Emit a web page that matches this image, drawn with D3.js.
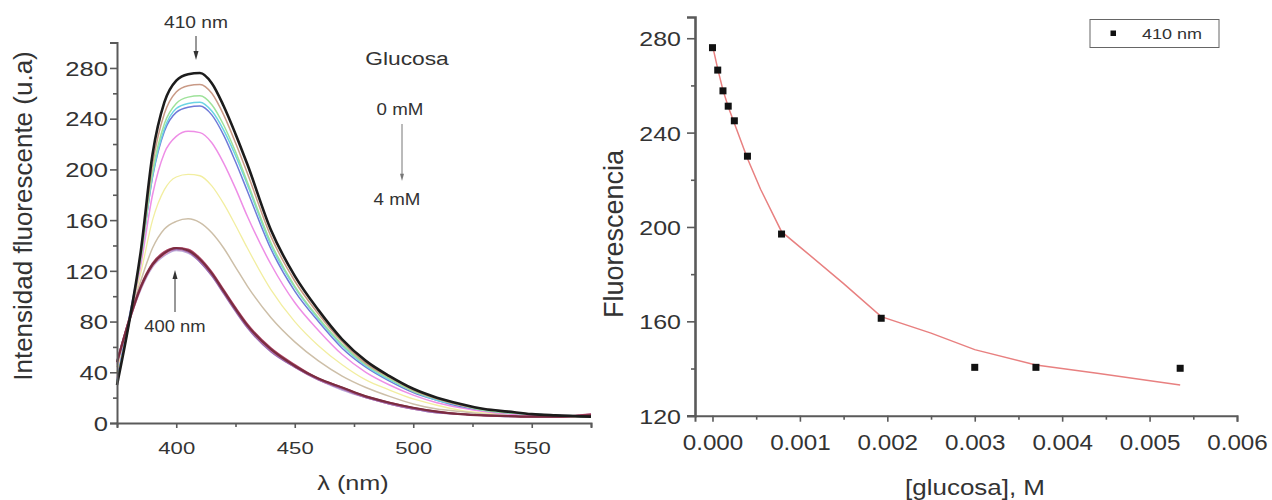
<!DOCTYPE html>
<html><head><meta charset="utf-8">
<script src="https://cdn.jsdelivr.net/npm/d3@7"></script>
<style>
body{margin:0;background:#fff}
svg{display:block}
text{font-family:"Liberation Sans",Arial,sans-serif;fill:#333}
</style>
</head><body>
<svg id="c" width="1272" height="500"></svg>
<script>
// ---------- DATA (left panel: emission spectra) ----------
const wavelengths = [375,380,385,390,395,400,405,410,415,420,425,430,440,450,460,470,480,490,500,510,520,530,540,550,560,575];
const spec0mM   = [30,78,135,212,253,270,275,276,268,250,228,204,152,116,89,66,49,37,27,20,15,11,9,7,6,5];
const specA     = [31,78,131,204,244,261,266,267,260,243,221,197,147,112,86,64,47,36,26,19,14,11,9,7,6,5];
const specB     = [32,78,129,198,236,252,257,258,251,235,214,190,142,108,83,62,46,35,25,19,14,10,8,7,6,5];
const specC     = [33,80,129,195,232,248,252,253,246,231,211,188,140,107,82,61,45,34,25,18,14,10,8,7,6,5];
const specD     = [33,82,131,194,230,245,249,250,243,227,206,183,137,104,80,59,44,33,24,18,13,10,8,7,6,5];
const specE     = [35,80,124,180,213,226,230,229,221,205,185,163,125,95,73,54,40,30,22,16,12,9,7,6,6,5];
const specF     = [40,82,118,160,184,194,196,195,187,173,156,138,105,80,61,46,34,26,19,14,10,8,7,6,5,5];
const specG     = [44,82,112,138,153,159,161,158,150,138,123,108,83,64,49,37,28,21,15,11,9,7,6,5,5,5];
const specH     = [48,80,107,125,134,138,136,129,118,104,90,77,58,45,35,28,21,16,12,9,7,6,5.5,5,5,6];
const specI     = [47,79,106,124,133,137,135,128,117,103,89,76,57,44,34,27,20,15,11,9,7,6,5.5,5,5,6];
const specJ     = [49,81,107,125,134,137,135,127,116,102,88,75,56,44,34,27,20,15,11,8,7,6,5.5,5,5,7];
const specK     = [46,79,105,123,132,136,134,127,116,103,89,76,57,44,34,26,20,15,11,8,7,6,5,5,5,6];
const specL     = [48,81,108,126,135,138,137,130,119,105,91,78,59,46,35,28,21,16,12,9,7,6,5.5,5,5,7];
const spectra   = [specF, specG, specE, specD, specC, specB, specA, specK, specI, specJ, specL, specH, spec0mM];
const specColors= ["#f2eea0","#cdbfa8","#ee8ee6","#6f7ad8","#6cd4e4","#9ee29a","#c99a86","#b8a8d8","#e486a8","#9a6ab0","#b04868","#7a2c40","#1c1c1c"];
const specWidths= [1.3,1.5,1.5,1.5,1.5,1.5,1.5,1.5,1.5,1.5,1.8,2.2,2.6];

const leftYTicks = [0,40,80,120,160,200,240,280];
const leftXTicks = [400,450,500,550];

// ---------- DATA (right panel: fluorescence vs glucose) ----------
const glucosaM     = [0,0.00006,0.00012,0.00018,0.00025,0.0004,0.00079,0.00193,0.0030,0.0037,0.00535];
const fluorescence = [276,266.5,257.7,251.2,245,230,197,161.3,140.5,140.5,140.1];
const fitX = [0,0.00006,0.00012,0.00018,0.00025,0.0004,0.00055,0.00079,0.00105,0.0015,0.00193,0.0025,0.003,0.0037,0.0044,0.00535];
const fitY = [277,267,258,251,244,229,216,198,190,176,162,155,148,141.5,138,133];
const rightYTicks = [120,160,200,240,280];
const rightXTicks = [0,0.001,0.002,0.003,0.004,0.005,0.006];

// ---------- DRAW ----------
const svg = d3.select("#c");
const axisCol = "#5a5a5a";

function sText(g, x, y, str, size, k, anchor){
  return g.append("text").attr("transform",`translate(${x},${y}) scale(${k},1)`)
    .attr("text-anchor",anchor||"middle").style("font-size",size+"px").text(str);
}
function arrow(g, x, y1, y2, col, w, head){
  const dir = y2>y1?1:-1;
  g.append("line").attr("x1",x).attr("x2",x).attr("y1",y1).attr("y2",y2-dir*head*1.6)
    .attr("stroke",col).attr("stroke-width",w);
  g.append("path").attr("d",`M${x-head/2},${y2-dir*head*1.8}L${x+head/2},${y2-dir*head*1.8}L${x},${y2}Z`).attr("fill",col);
}
function styleAxis(g){
  g.select(".domain").attr("stroke",axisCol).attr("stroke-width",2);
  g.selectAll(".tick line").attr("stroke",axisCol).attr("stroke-width",1.6);
  g.selectAll(".tick text").attr("fill","#333");
}

// Left panel
const L = svg.append("g");
const xL = d3.scaleLinear().domain([375,575]).range([117,591]);
const yL = d3.scaleLinear().domain([0,300]).range([423,42.6]);

const lineL = d3.line().x((d,i)=>xL(wavelengths[i])).y(d=>yL(d)).curve(d3.curveMonotoneX);
spectra.forEach((s,i)=>{
  L.append("path").attr("d",lineL(s)).attr("fill","none")
   .attr("stroke",specColors[i]).attr("stroke-width",specWidths[i]);
});

// minor ticks
const gLyMin = L.append("g").attr("transform","translate(117,0)")
  .call(d3.axisLeft(yL).tickValues(d3.range(20,301,40)).tickSize(4).tickFormat(""));
const gLxMin = L.append("g").attr("transform","translate(0,423)")
  .call(d3.axisBottom(xL).tickValues([375,425,475,525,575]).tickSize(4).tickFormat(""));
[gLyMin,gLxMin].forEach(g=>{g.select(".domain").remove();g.selectAll("line").attr("stroke",axisCol).attr("stroke-width",1.6);});

const gLy = L.append("g").attr("transform","translate(117,0)")
  .call(d3.axisLeft(yL).tickValues(leftYTicks).tickSizeOuter(0).tickSize(7));
styleAxis(gLy);
gLy.selectAll(".tick text").style("font-size","20px").attr("x",0).attr("dy","0.36em")
  .attr("transform","translate(-9,0) scale(1.28,1)");
const gLx = L.append("g").attr("transform","translate(0,423)")
  .call(d3.axisBottom(xL).tickValues(leftXTicks).tickSizeOuter(0).tickSize(5));
styleAxis(gLx);
gLx.selectAll(".tick text").style("font-size","17px").attr("y",0).attr("dy",0)
  .attr("transform","translate(0,31) scale(1.3,1)");

// Left labels
L.append("text").attr("transform","translate(32,216) rotate(-90)").attr("text-anchor","middle")
  .style("font-size","26px").text("Intensidad fluorescente (u.a)");
sText(L, 353, 490, "λ (nm)", 21, 1.2);
sText(L, 196, 28, "410 nm", 16, 1.2);
arrow(L, 196, 36, 60, "#333", 1, 5);
sText(L, 175, 332, "400 nm", 16, 1.15);
arrow(L, 175, 312, 270, "#333", 1, 5);
sText(L, 407, 65, "Glucosa", 19, 1.2);
sText(L, 400, 115, "0 mM", 16, 1.17);
arrow(L, 402, 124, 181, "#777", 1, 4);
sText(L, 397, 205, "4 mM", 16, 1.17);

// Right panel
const R = svg.append("g");
const xR = d3.scaleLinear().domain([-0.0002,0.006]).range([695,1237]);
const yR = d3.scaleLinear().domain([120,289]).range([415.7,17]);

R.append("path").attr("d", d3.line().x((d,i)=>xR(fitX[i])).y(d=>yR(d))(fitY))
  .attr("fill","none").attr("stroke","#e88080").attr("stroke-width",1.5);
R.selectAll("rect.pt").data(fluorescence).enter().append("rect").attr("class","pt")
  .attr("x",(d,i)=>xR(glucosaM[i])-3.5).attr("y",d=>yR(d)-3.5)
  .attr("width",7).attr("height",7).attr("fill","#111");

const gRyMin = R.append("g").attr("transform","translate(695,0)")
  .call(d3.axisLeft(yR).tickValues([140,180,220,260]).tickSize(4).tickFormat(""));
const gRxMin = R.append("g").attr("transform","translate(0,415.7)")
  .call(d3.axisBottom(xR).tickValues(d3.range(0.0005,0.006,0.001)).tickSize(4).tickFormat(""));
[gRyMin,gRxMin].forEach(g=>{g.select(".domain").remove();g.selectAll("line").attr("stroke",axisCol).attr("stroke-width",1.6);});

const gRy = R.append("g").attr("transform","translate(695,0)")
  .call(d3.axisLeft(yR).tickValues(rightYTicks).tickSizeOuter(0).tickSize(8));
styleAxis(gRy);
gRy.select(".domain").attr("stroke-width",2.6);
gRy.selectAll(".tick text").style("font-size","21px").attr("x",0).attr("dy","0.36em")
  .attr("transform","translate(-14,0) scale(1.19,1)");
const gRx = R.append("g").attr("transform","translate(0,415.7)")
  .call(d3.axisBottom(xR).tickValues(rightXTicks).tickSizeOuter(0).tickSize(6).tickFormat(d3.format(".3f")));
styleAxis(gRx);
gRx.selectAll(".tick text").style("font-size","22px").attr("y",0).attr("dy",0)
  .attr("transform","translate(0,34) scale(1.1,1)");

R.append("text").attr("transform","translate(623,234) rotate(-90)").attr("text-anchor","middle")
  .style("font-size","27px").text("Fluorescencia");
sText(R, 975, 495, "[glucosa], M", 22, 1.18);

// legend
R.append("rect").attr("x",1090).attr("y",19.5).attr("width",129).attr("height",28)
  .attr("fill","#fff").attr("stroke","#666").attr("stroke-width",1);
R.append("rect").attr("x",1110.5).attr("y",30.5).attr("width",5.5).attr("height",5.5).attr("fill","#111");
sText(R, 1142, 39, "410 nm", 15, 1.2, "start");
</script>
</body></html>
